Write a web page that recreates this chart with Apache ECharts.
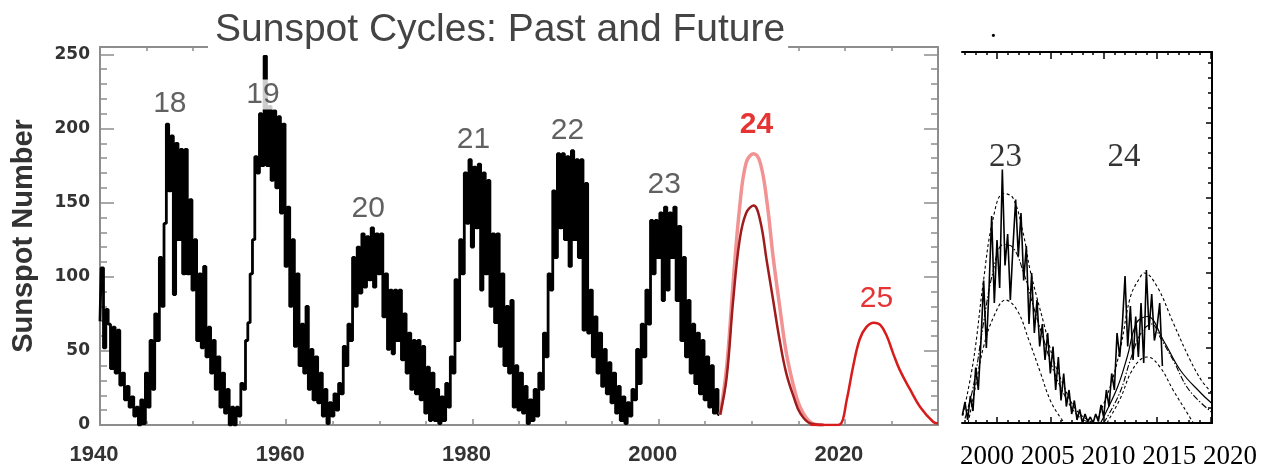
<!DOCTYPE html>
<html><head><meta charset="utf-8">
<script src="https://cdn.jsdelivr.net/npm/echarts@6/dist/echarts.min.js"></script>
<style>html,body{margin:0;padding:0;background:#fff}#c{width:1273px;height:470px}</style>
</head><body><div id="c"></div>
<script>
// ================= DATA =================
const chartTitle = 'Sunspot Cycles: Past and Future';
const yAxisName = 'Sunspot Number';
const mainXLabels = [1940, 1960, 1980, 2000, 2020];
const mainXTicks = [1940,1945,1950,1955,1960,1965,1970,1975,1980,1985,1990,1995,2000,2005,2010,2015,2020,2025,2030];
const mainYLabels = [0, 50, 100, 150, 200, 250];
const mainYMinor = [10,20,30,40,60,70,80,90,110,120,130,140,160,170,180,190,210,220,230,240];

// observed monthly-ish sunspot numbers, quarterly steps from 1940.0
const obsStart = 1940, obsStep = 0.25;
const observed = [
  70,106,52,78,  68,38,66,35,  64,27,35,17,  26,12,19,6,  12,0,17,1,
  35,12,57,24,  75,57,113,80,  136,203,158,195,  88,190,125,186,  102,186,102,152,
  91,125,57,102,  52,107,46,66,  35,57,24,46,  12,35,8,24,  0,12,0,12,
  6,28,24,57,  69,102,125,181,  170,210,175,249,  175,215,165,212,  160,208,143,203,
  107,147,80,125,  53,102,40,68,  35,80,24,51,  17,46,15,35,  6,24,1,15,
  6,21,10,28,  21,53,40,68,  57,113,80,120,  89,129,93,127,  98,133,93,129,
  102,129,73,102,  51,91,48,91,  57,91,44,75,  35,62,24,57,  21,57,17,53,
  8,39,3,35,  3,24,1,19,  3,28,12,46,  35,98,57,125,  102,170,136,179,
  120,174,133,176,  91,170,102,165,  80,129,69,129,  53,102,40,80,  35,84,12,40,
  10,35,8,26,  1,17,3,24,  6,35,24,62,  46,102,91,158,  113,183,133,183,
  125,181,107,185,  125,179,113,179,  64,163,62,91,  46,73,35,62,  26,51,21,42,
  15,35,8,26,  3,19,1,15,  6,24,17,51,  28,68,46,91,  68,138,102,138,
  113,143,84,147,  91,143,113,147,  84,134,57,113,  46,84,35,68,  28,62,21,57,
  17,46,12,40,  8,24,7
];
// cycle 24 predictions
const predYears  = [2006.6, 2007.3, 2008.0, 2008.7, 2009.4, 2010.2, 2010.9, 2011.6, 2012.3, 2013.0, 2013.7, 2014.5, 2015.2, 2016.3, 2017.7];
const pred24High = [7, 39, 96, 147, 177, 183, 177, 152, 113, 80, 49, 26, 12, 2, 0];
const pred24Low  = [7, 32, 84, 125, 143, 148, 138, 111, 84, 57, 35, 19, 8, 1, 0];
// cycle 25 prediction
const pred25Years = [2016.3, 2017.7, 2018.8, 2019.5, 2020.2, 2020.9, 2021.6, 2022.3, 2023.1, 2023.8, 2024.5, 2025.2, 2025.9, 2027.0, 2028.1, 2029.5, 2030];
const pred25      = [0, 0, 0, 0.5, 17, 40, 58, 66, 69, 67.5, 60, 48, 37, 24, 12, 2, 1];
// cycle number annotations
const cycleNames  = ['18', '19', '20', '21', '22', '23', '24', '25'];
const cycleYears  = [1947.5, 1957.5, 1968.8, 1980.1, 1990.2, 2000.6, 2010.5, 2023.4];
const cycleLevels = [216.6, 223, 145.7, 192.3, 198.4, 162, 202.4, 85];

// ---- inset panel ----
const insetXLabels = ['2000', '2005', '2010', '2015', '2020'];
const insetMajorYears = [2000, 2005, 2010, 2015, 2020];
const insetMinorYears = [1997,1998,1999,2001,2002,2003,2004,2006,2007,2008,2009,2011,2012,2013,2014,2016,2017,2018,2019];
const insetYMajor = [0, 50, 100, 150, 200];
const insetYMinor = [10,20,30,40,60,70,80,90,110,120,130,140,160,170,180,190,210,220,230,240];
const insetObsStart = 1996.75, insetObsStep = 0.25;
const insetObserved = [
  5,
  14,2,18,8,  37,22,55,95,  50,89,138,80,  122,90,169,105,  126,82,118,149,
  111,140,95,118,  66,100,60,82,  51,66,42,60,  33,51,22,44,  15,33,11,22,
  6,15,2,9,  0,6,1,4,  0,6,1,12,  4,22,11,33,  22,60,44,66,
  98,51,78,42,  71,44,80,40,  102,62,86,55,  64,80,38
];
const c23UpperYears = [1996.8, 1997.8, 1998.7, 1999.6, 2000.6, 2001.5, 2002.5, 2003.1, 2004.4, 2005.3, 2006.3, 2007.2, 2008.1, 2009.1];
const c23Upper      = [5, 42, 93, 135, 153, 150, 125, 102, 66, 42, 24, 11, 4, 0];
const c23MidYears   = [1997.0, 1997.8, 1998.7, 1999.6, 2000.6, 2001.5, 2002.5, 2003.4, 2004.4, 2005.3, 2006.3, 2007.2, 2008.1, 2009.1];
const c23Mid        = [3, 25, 65, 100, 119, 117, 100, 78, 55, 35, 19, 8, 2, 0];
const c23LowerYears = [1997.3, 1998.0, 1998.75, 1999.7, 2000.8, 2001.9, 2003.0, 2004.1, 2005.0, 2006.0, 2006.4];
const c23Lower      = [0, 25, 51, 71, 82, 75, 55, 33, 15, 3, 0];
const c24UpperYears = [2009.4, 2010.6, 2011.6, 2012.5, 2013.4, 2013.8, 2015.0, 2016.5, 2018.1, 2019.2, 2020.15];
const c24Upper      = [3, 24, 51, 84, 97, 100, 91, 67, 42, 28, 20];
const c24MidYears   = [2009.7, 2010.0, 2011.3, 2012.2, 2013.1, 2014.1, 2015.6, 2017.2, 2019.1, 2020.15];
const c24Mid        = [0, 4, 24, 44, 67, 71, 55, 35, 20, 13];
const c24AltYears   = [2010.0, 2011.5, 2012.5, 2013.5, 2014.5, 2015.3, 2016.5, 2018.0, 2020.15];
const c24Alt        = [0, 20, 42, 60, 66, 57, 42, 22, 7];
const c24LowerYears = [2010.3, 2011.6, 2012.5, 2013.4, 2014.1, 2015.3, 2016.5, 2017.8, 2018.4];
const c24Lower      = [0, 17, 33, 42, 44, 37, 22, 7, 0];
const insetCycleNames  = ['23', '24'];
const insetCycleYears  = [2000.8, 2011.9];
const insetCycleLevels = [177, 177];

// ================= CHART =================
const FRAME = '#8d8d8d';
const SANS = 'Liberation Sans';
const pairs = (xs, ys) => xs.map((x, i) => [x, ys[i]]);
const seq = (start, step, ys) => ys.map((v, i) => [start + i * step, v]);

function ax(grid, min, max, pos, opt) {
  return Object.assign({
    type: 'value', gridIndex: grid, min: min, max: max, position: pos,
    axisLine: { show: false, onZero: false },
    axisTick: { show: false },
    axisLabel: { show: false },
    splitLine: { show: false }
  }, opt);
}
const line = (color, width) => ({ show: true, onZero: false, lineStyle: { color: color, width: width } });
const tick = (vals, len, color, width) => ({ show: true, inside: true, length: len, customValues: vals, lineStyle: { color: color, width: width } });

const chart = echarts.init(document.getElementById('c'), null, { renderer: 'canvas' });
chart.setOption({
  animation: false,
  backgroundColor: '#fff',
  title: {
    text: chartTitle, left: 208, top: 8,
    padding: [3, 3, 5, 7], backgroundColor: '#fff',
    textStyle: { fontFamily: SANS, fontSize: 39, fontWeight: 'normal', color: '#444' }
  },
  grid: [
    { left: 100, right: 335, top: 47, bottom: 45 },
    { left: 962, right: 61, top: 52, bottom: 47 }
  ],
  xAxis: [
    ax(0, 1940, 2030, 'bottom', {
      axisLine: line(FRAME, 2),
      axisTick: tick(mainXLabels, 6, FRAME, 1.5),
      axisLabel: { show: true, customValues: mainXLabels, formatter: v => String(v), margin: 19, padding: [0, 12, 0, 0],
        fontFamily: SANS, fontWeight: 'bold', fontSize: 22, color: '#333' }
    }),
    ax(0, 1940, 2030, 'bottom', { axisTick: tick(mainXTicks, 4, FRAME, 1.5) }),
    ax(0, 1940, 2030, 'top', { axisLine: line(FRAME, 2), axisTick: tick(mainXTicks, 4, FRAME, 1.5) }),
    ax(1, 1996.72, 2020.15, 'bottom', { axisLine: line('#000', 2), axisTick: tick(insetMajorYears, 6, '#000', 1.5) }),
    ax(1, 1996.72, 2020.15, 'bottom', { axisTick: tick(insetMinorYears, 3, '#000', 1.5) }),
    ax(1, 1996.72, 2020.15, 'top', { axisLine: line('#000', 2), axisTick: tick(insetMajorYears, 7, '#000', 1.5) }),
    ax(1, 1996.72, 2020.15, 'top', { axisTick: tick(insetMinorYears, 3, '#000', 1.5) })
  ],
  yAxis: [
    ax(0, 0, 255, 'left', {
      axisLine: line(FRAME, 2),
      axisTick: tick(mainYLabels, 14, FRAME, 1.5),
      axisLabel: { show: true, customValues: mainYLabels, formatter: v => String(v), margin: 10,
        fontFamily: 'DejaVu Sans', fontWeight: 'bold', fontSize: 17, color: '#333' },
      name: yAxisName, nameLocation: 'middle', nameGap: 62,
      nameTextStyle: { fontFamily: SANS, fontWeight: 'bold', fontSize: 29, color: '#333' }
    }),
    ax(0, 0, 255, 'left', { axisTick: tick(mainYMinor, 7, FRAME, 1.5) }),
    ax(0, 0, 255, 'right', { axisLine: line(FRAME, 2), axisTick: tick(mainYLabels, 14, FRAME, 1.5) }),
    ax(0, 0, 255, 'right', { axisTick: tick(mainYMinor, 7, FRAME, 1.5) }),
    ax(1, 0, 247.3, 'right', { axisLine: line('#000', 2), axisTick: tick(insetYMajor, 6, '#000', 1.5) }),
    ax(1, 0, 247.3, 'right', { axisTick: tick(insetYMinor, 4, '#000', 1.5) })
  ],
  graphic: [
    { type: 'text', left: 960, top: 443, style: { text: insetXLabels.join(' '), font: '27px "Liberation Serif"', fill: '#000' } },
    { type: 'text', left: 990, top: 16, style: { text: '.', font: '27px "Liberation Serif"', fill: '#000' } }
  ],
  series: [
    { type: 'line', xAxisIndex: 0, yAxisIndex: 0, symbol: 'none', step: 'middle', data: seq(obsStart, obsStep, observed),
      lineStyle: { color: '#000', width: 2.8 }, z: 3 },
    { type: 'line', xAxisIndex: 0, yAxisIndex: 0, symbol: 'none', smooth: 0.4, data: pairs(predYears, pred24High),
      lineStyle: { color: '#f29393', width: 3.5 }, z: 3 },
    { type: 'line', xAxisIndex: 0, yAxisIndex: 0, symbol: 'none', smooth: 0.4, data: pairs(predYears, pred24Low),
      lineStyle: { color: '#9e1c1c', width: 2.5 }, z: 4 },
    { type: 'line', xAxisIndex: 0, yAxisIndex: 0, symbol: 'none', smooth: 0.4, data: pairs(pred25Years, pred25),
      lineStyle: { color: '#d81c1c', width: 2.5 }, z: 4 },
    { type: 'scatter', xAxisIndex: 0, yAxisIndex: 0, symbolSize: 1, itemStyle: { color: 'rgba(0,0,0,0)' }, z: 10,
      data: cycleNames.map((n, i) => ({
        name: n, value: [cycleYears[i], cycleLevels[i]],
        label: i >= 6 ? { color: '#e00000', fontWeight: i === 6 ? 'bold' : 'normal' } : {}
      })),
      label: { show: true, position: 'inside', formatter: '{b}', fontFamily: SANS, fontSize: 30, color: '#3a3a3a',
        backgroundColor: '#fff', padding: [0, 2] } },
    // inset
    { type: 'line', xAxisIndex: 3, yAxisIndex: 4, symbol: 'none', data: seq(insetObsStart, insetObsStep, insetObserved),
      lineStyle: { color: '#000', width: 1.6 } },
    { type: 'line', xAxisIndex: 3, yAxisIndex: 4, symbol: 'none', smooth: 0.4, data: pairs(c23UpperYears, c23Upper),
      lineStyle: { color: '#000', width: 1.1, type: [3, 2.5] } },
    { type: 'line', xAxisIndex: 3, yAxisIndex: 4, symbol: 'none', smooth: 0.4, data: pairs(c23MidYears, c23Mid),
      lineStyle: { color: '#000', width: 1.1, type: [6, 2, 1.5, 2] } },
    { type: 'line', xAxisIndex: 3, yAxisIndex: 4, symbol: 'none', smooth: 0.4, data: pairs(c23LowerYears, c23Lower),
      lineStyle: { color: '#000', width: 1.1, type: [3, 2.5] } },
    { type: 'line', xAxisIndex: 3, yAxisIndex: 4, symbol: 'none', smooth: 0.4, data: pairs(c24UpperYears, c24Upper),
      lineStyle: { color: '#000', width: 1.1, type: [3, 2.5] } },
    { type: 'line', xAxisIndex: 3, yAxisIndex: 4, symbol: 'none', smooth: 0.4, data: pairs(c24MidYears, c24Mid),
      lineStyle: { color: '#000', width: 1.2 } },
    { type: 'line', xAxisIndex: 3, yAxisIndex: 4, symbol: 'none', smooth: 0.4, data: pairs(c24AltYears, c24Alt),
      lineStyle: { color: '#000', width: 1.1, type: [6, 2, 1.5, 2] } },
    { type: 'line', xAxisIndex: 3, yAxisIndex: 4, symbol: 'none', smooth: 0.4, data: pairs(c24LowerYears, c24Lower),
      lineStyle: { color: '#000', width: 1.1, type: [3, 2.5] } },
    { type: 'scatter', xAxisIndex: 3, yAxisIndex: 4, symbolSize: 1, itemStyle: { color: 'rgba(0,0,0,0)' }, z: 10,
      data: insetCycleNames.map((n, i) => ({ name: n, value: [insetCycleYears[i], insetCycleLevels[i]] })),
      label: { show: true, position: 'inside', formatter: '{b}', fontFamily: 'Liberation Serif', fontSize: 33, color: '#000' } }
  ]
});
</script>
</body></html>
